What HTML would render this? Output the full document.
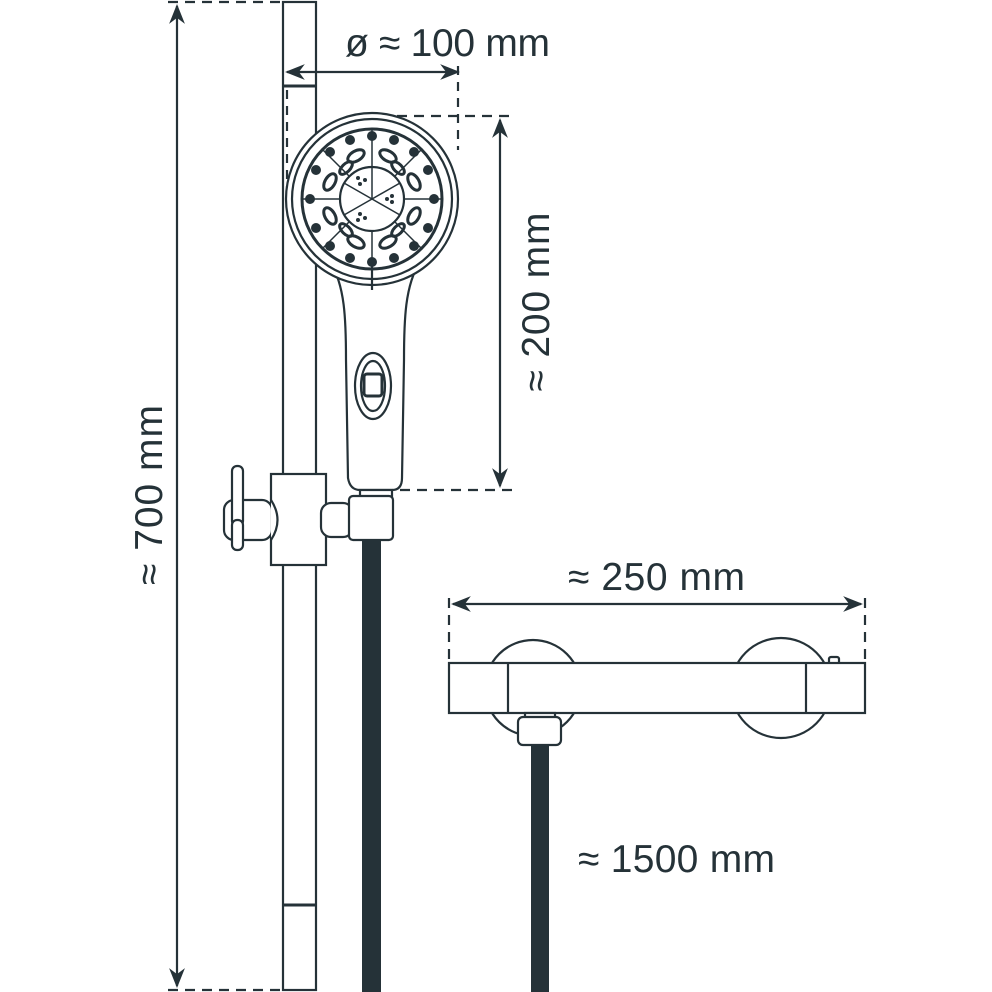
<!DOCTYPE html>
<html><head><meta charset="utf-8"><style>html,body{margin:0;padding:0;background:#fff}svg{display:block}text{font-family:"Liberation Sans",sans-serif;fill:#253238;font-size:39px}</style></head><body>
<svg width="992" height="992" viewBox="0 0 992 992" xmlns="http://www.w3.org/2000/svg">
<defs><marker id="a" viewBox="0 0 10 10" refX="9" refY="5" markerWidth="9" markerHeight="9" orient="auto-start-reverse"><path d="M0,1 L10,5 L0,9 L3,5z" fill="#253238"/></marker></defs>
<g stroke="#253238" stroke-width="2.2" fill="none">
<line x1="177" y1="6" x2="177" y2="986" marker-start="url(#a)" marker-end="url(#a)"/>
<line x1="168" y1="2" x2="283" y2="2" stroke-dasharray="10,7"/>
<line x1="168" y1="990" x2="283" y2="990" stroke-dasharray="10,7"/>
<rect x="283" y="2" width="33" height="988" fill="#fff"/>
<line x1="283" y1="86" x2="316" y2="86" stroke-width="3"/>
<line x1="283" y1="905" x2="316" y2="905" stroke-width="3"/>
<line x1="287" y1="72" x2="458" y2="72" marker-start="url(#a)" marker-end="url(#a)"/>
<line x1="458" y1="66" x2="458" y2="150" stroke-dasharray="9,7"/>
<line x1="287" y1="90" x2="287" y2="200" stroke-dasharray="9,7"/>
<line x1="380" y1="116" x2="512" y2="116" stroke-dasharray="10,7"/>
<line x1="400" y1="490" x2="512" y2="490" stroke-dasharray="10,7"/>
<line x1="500" y1="120" x2="500" y2="486" marker-start="url(#a)" marker-end="url(#a)"/>
<path d="M330,262 C345,285 346,320 346,360 L348,478 Q350,490 360,490 L392,490 Q402,490 402,478 L404,360 C404,320 405,285 420,262" fill="#fff"/>
<ellipse cx="373" cy="386" rx="18" ry="33"/>
<ellipse cx="373" cy="386" rx="12" ry="25"/>
<rect x="364" y="374" width="18" height="22" rx="3" stroke-width="3"/>
<circle cx="372" cy="199" r="86" fill="#fff"/>
<circle cx="372" cy="199" r="80"/>
<circle cx="372" cy="199" r="70" stroke-width="3"/>
<circle cx="372" cy="199" r="32"/>
<g stroke-width="1.5">
<line x1="372" y1="129" x2="372" y2="167"/><line x1="372" y1="231" x2="372" y2="290"/>
<line x1="302" y1="199" x2="340" y2="199"/><line x1="404" y1="199" x2="442" y2="199"/>
<line x1="322" y1="149" x2="349" y2="176"/><line x1="395" y1="222" x2="422" y2="249"/>
<line x1="422" y1="149" x2="395" y2="176"/><line x1="349" y1="222" x2="322" y2="249"/>
<path d="M372,199 L372,167 M372,199 L400,183 M372,199 L400,215 M372,199 L344,215 M372,199 L344,183"/>
</g>
</g>
<g fill="#253238">
<circle cx="372" cy="136" r="5"/><circle cx="394" cy="140" r="5"/><circle cx="350" cy="140" r="5"/><circle cx="414" cy="152" r="5"/><circle cx="330" cy="152" r="5"/>
<circle cx="428" cy="170" r="5"/><circle cx="316" cy="170" r="5"/><circle cx="434" cy="199" r="5"/><circle cx="310" cy="199" r="5"/>
<circle cx="428" cy="228" r="5"/><circle cx="316" cy="228" r="5"/><circle cx="414" cy="246" r="5"/><circle cx="330" cy="246" r="5"/>
<circle cx="394" cy="258" r="5"/><circle cx="350" cy="258" r="5"/><circle cx="372" cy="262" r="5"/>
<g fill="none" stroke="#253238" stroke-width="3">
<ellipse cx="388" cy="156" rx="9" ry="5" transform="rotate(30 388 156)"/><ellipse cx="356" cy="156" rx="9" ry="5" transform="rotate(-30 356 156)"/>
<ellipse cx="414" cy="182" rx="9" ry="5" transform="rotate(60 414 182)"/><ellipse cx="330" cy="182" rx="9" ry="5" transform="rotate(-60 330 182)"/>
<ellipse cx="414" cy="216" rx="9" ry="5" transform="rotate(-60 414 216)"/><ellipse cx="330" cy="216" rx="9" ry="5" transform="rotate(60 330 216)"/>
<ellipse cx="388" cy="242" rx="9" ry="5" transform="rotate(-30 388 242)"/><ellipse cx="356" cy="242" rx="9" ry="5" transform="rotate(30 356 242)"/>
<ellipse cx="398" cy="168" rx="8" ry="4" transform="rotate(45 398 168)"/><ellipse cx="346" cy="168" rx="8" ry="4" transform="rotate(-45 346 168)"/>
<ellipse cx="398" cy="230" rx="8" ry="4" transform="rotate(-45 398 230)"/><ellipse cx="346" cy="230" rx="8" ry="4" transform="rotate(45 346 230)"/>
</g>
<circle cx="360" cy="184" r="2"/><circle cx="365" cy="180" r="2"/><circle cx="358" cy="178" r="2"/>
<circle cx="392" cy="196" r="2"/><circle cx="392" cy="202" r="2"/><circle cx="387" cy="199" r="2"/>
<circle cx="360" cy="214" r="2"/><circle cx="365" cy="218" r="2"/><circle cx="358" cy="220" r="2"/>
</g>
<g stroke="#253238" stroke-width="2.2" fill="#fff">
<line x1="372" y1="262" x2="372" y2="290"/>
<rect x="271" y="474" width="55" height="91"/>
<rect x="224" y="500" width="48" height="40" rx="10"/>
<path d="M271,500 Q284,520 271,540"/>
<rect x="232" y="466" width="11" height="60" rx="5"/>
<rect x="232" y="520" width="11" height="30" rx="5"/>
<rect x="321" y="503" width="32" height="34" rx="10"/>
<rect x="360" y="490" width="32" height="8"/>
<rect x="349" y="496" width="44" height="44" rx="4"/>
</g>
<rect x="362" y="541" width="19" height="451" fill="#253238"/>
<rect x="531" y="745" width="18" height="247" fill="#253238"/>
<g stroke="#253238" stroke-width="2.2" fill="#fff">
<line x1="453" y1="604" x2="861" y2="604" marker-start="url(#a)" marker-end="url(#a)" fill="none"/>
<line x1="449" y1="598" x2="449" y2="660" stroke-dasharray="10,7" fill="none"/>
<line x1="865" y1="598" x2="865" y2="660" stroke-dasharray="10,7" fill="none"/>
<circle cx="533" cy="688" r="48"/>
<circle cx="781" cy="688" r="50"/>
<rect x="829" y="657" width="10" height="7" rx="2"/>
<rect x="449" y="663" width="416" height="50"/>
<line x1="508" y1="663" x2="508" y2="713"/>
<line x1="806" y1="663" x2="806" y2="713"/>
<rect x="525" y="713" width="30" height="6"/>
<rect x="518" y="717" width="43" height="28" rx="5"/>
</g>
<text x="345" y="56" textLength="205">ø ≈ 100 mm</text>
<text x="568" y="590" textLength="177">≈ 250 mm</text>
<text x="578" y="872" textLength="197">≈ 1500 mm</text>
<text transform="translate(162 495) rotate(-90)" text-anchor="middle" textLength="180">≈ 700 mm</text>
<text transform="translate(549 302) rotate(-90)" text-anchor="middle" textLength="179">≈ 200 mm</text>
</svg>
</body></html>
